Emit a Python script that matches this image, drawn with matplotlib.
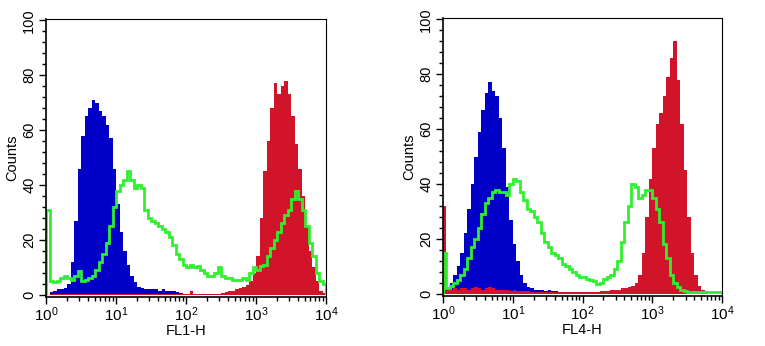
import numpy as np
import matplotlib
matplotlib.use('Agg')
import matplotlib.pyplot as plt
from matplotlib.ticker import LogLocator, MultipleLocator, FixedLocator

plt.rcParams['font.family'] = ['Liberation Sans', 'DejaVu Sans']
plt.rcParams['mathtext.fontset'] = 'custom'
plt.rcParams['mathtext.rm'] = 'Liberation Sans'
plt.rcParams['mathtext.it'] = 'Liberation Sans:italic'

# histogram channels: 80 bins, 0.05 decade each, from 10^0 to 10^4
bin_log_edges = np.linspace(0, 4, 81)

# panel 1 (FL1-H)
fl1_blue = [0, 1, 1.5, 2, 2, 2.5, 4, 12, 27, 46,
            58, 65, 68, 71, 70, 67, 65, 62, 57, 46,
            33, 23, 16, 11, 7, 4.5, 3, 2.5, 2, 2,
            2, 2, 1.5, 2, 1.5, 1.5, 1.5, 1, 0.5, 0,
            0, 0, 0, 0, 0, 0, 0, 0, 0, 0,
            0, 0, 0, 0, 0, 0, 0, 0, 0, 0,
            0, 0, 0, 0, 0, 0, 0, 0, 0, 0,
            0, 0, 0, 0, 0, 0, 0, 0, 0, 0]
fl1_red = [0, 0.4, 0.4, 0.4, 0.4, 0.4, 0.4, 0.4, 0.4, 0.4,
           0.4, 0.4, 0.4, 0.4, 0.4, 0.4, 0.4, 0.4, 0.4, 0.4,
           0.4, 0.4, 0.4, 0.4, 0.4, 0.4, 0.4, 0.4, 0.4, 0.4,
           0.4, 0.4, 0.4, 0.4, 0.4, 0.4, 0.4, 0.4, 0.4, 0.4,
           0.4, 1.5, 0.4, 0.4, 0.4, 0.4, 0.4, 0.4, 0.4, 0.4,
           0.5, 1, 1.5, 1.5, 2, 2.5, 3, 3.5, 5, 8,
           14, 28, 45, 56, 68, 77, 73, 76, 78, 73,
           65, 55, 46, 36, 25, 16, 10, 5, 1.5, 0.5]
fl1_green = [31, 5, 4.5, 5, 6, 7, 6, 5.5, 7, 8.5,
             5, 5.5, 6, 7, 9, 12, 15, 19, 25, 32,
             38, 40, 42, 45, 42, 39, 40, 39, 31, 28,
             27, 26, 25, 24, 23, 21, 18, 15, 13, 11,
             10, 11, 10, 10.5, 9, 8, 7, 7, 8, 10,
             7, 6, 6, 5.5, 5.5, 5.5, 6, 5.5, 8, 10,
             9, 10.5, 11, 14, 17, 20, 23, 26, 29, 31,
             35, 38, 35, 31, 25, 19, 14, 8, 5, 4]

# panel 2 (FL4-H)
fl4_blue = [0, 2, 4, 7, 10, 15, 22, 31, 40, 50,
            59, 67, 73, 77, 74, 72, 64, 53, 39, 27,
            18, 12, 7, 4, 2.5, 2, 1.5, 1.5, 1.5, 1,
            1.5, 1, 1, 0.5, 0, 0, 0, 0, 0, 0,
            0, 0, 0, 0, 0, 0, 0, 0, 0, 0,
            0, 0, 0, 0, 0, 0, 0, 0, 0, 0,
            0, 0, 0, 0, 0, 0, 0, 0, 0, 0,
            0, 0, 0, 0, 0, 0, 0, 0, 0, 0]
fl4_red = [32, 1.5, 1.5, 2, 1.5, 2, 2, 1.5, 2, 2.5,
           2, 1.5, 2, 2.5, 2, 1.5, 1.5, 1.5, 1.5, 1,
           1.5, 1, 1, 1, 1, 0.8, 0.5, 0.5, 0.5, 0.5,
           0.5, 0.5, 0.5, 0.5, 0.5, 0.5, 0.5, 0.5, 0.5, 0.5,
           0.5, 0.5, 0.5, 0.5, 0.5, 1, 1, 1, 1.5, 1.5,
           1.5, 2, 2, 2.5, 3, 4, 7, 15, 28, 42,
           53, 62, 66, 72, 79, 86, 92, 78, 62, 45,
           28, 15, 7, 3, 1.5, 1, 0, 0, 0, 0]
fl4_green = [15, 2, 3, 4, 5, 7, 9, 13, 17, 20,
             24, 29, 33, 35, 37, 38, 37, 37, 36, 40,
             42, 41, 37, 34, 31, 30, 28, 26, 22, 19,
             17, 15, 14, 13, 11, 10, 9, 8, 7, 6,
             6, 5.5, 5, 4.5, 3.5, 4, 5.5, 6, 7, 9,
             12, 19, 26, 32, 40, 39, 35, 36, 38, 38,
             35, 31, 26, 18, 13, 7, 4, 2.5, 1.5, 1,
             0.7, 0.7, 0.7, 0.7, 0.7, 0.7, 0.7, 0.7, 0.7, 0.7]

BLUE = '#0000c8'
RED = '#d2142a'
GREEN = '#2ef02e'

edges = 10 ** bin_log_edges

fig = plt.figure(figsize=(7.65, 3.46), dpi=100)
ax1 = fig.add_axes([46 / 765, 49 / 346, 280 / 765, 278 / 346])
ax2 = fig.add_axes([443 / 765, 50 / 346, 279 / 765, 278 / 346])

panels = [
    (ax1, fl1_blue, fl1_red, fl1_green, 'FL1-H'),
    (ax2, fl4_blue, fl4_red, fl4_green, 'FL4-H'),
]

for ax, blue, red, green, xlabel in panels:
    ax.stairs(blue, edges, fill=True, color=BLUE, lw=0)
    ax.stairs(red, edges, fill=True, color=RED, lw=0)
    ax.stairs(green, edges, color=GREEN, lw=2.0)

    ax.set_xscale('log')
    ax.set_xlim(1, 1e4)
    ax.set_ylim(-0.8, 100.5)

    ax.xaxis.set_major_locator(FixedLocator([1, 10, 100, 1000, 10000]))
    ax.set_xticklabels(['$10^0$', '$10^1$', '$10^2$', '$10^3$', '$10^4$'])
    ax.xaxis.set_minor_locator(LogLocator(base=10, subs=np.arange(2, 10)))
    ax.xaxis.set_minor_formatter(plt.NullFormatter())

    ax.yaxis.set_major_locator(MultipleLocator(20))
    ax.yaxis.set_minor_locator(MultipleLocator(4))
    for lab in ax.get_yticklabels():
        lab.set_rotation(90)
        lab.set_va('center')

    ax.tick_params(axis='both', which='major', direction='out', length=5,
                   width=1, labelsize=10.5, pad=2)
    ax.tick_params(axis='both', which='minor', direction='out', length=3,
                   width=1)
    ax.tick_params(axis='x', which='major', pad=1, labelsize=11)

    for side in ['left', 'bottom']:
        ax.spines[side].set_linewidth(1.2)
    for side in ['top', 'right']:
        ax.spines[side].set_linewidth(0.8)

    ax.set_xlabel(xlabel, fontsize=10.5, labelpad=0)
    ax.set_ylabel('Counts', fontsize=10.5, labelpad=2)

fig.savefig('out.png', dpi=100)
